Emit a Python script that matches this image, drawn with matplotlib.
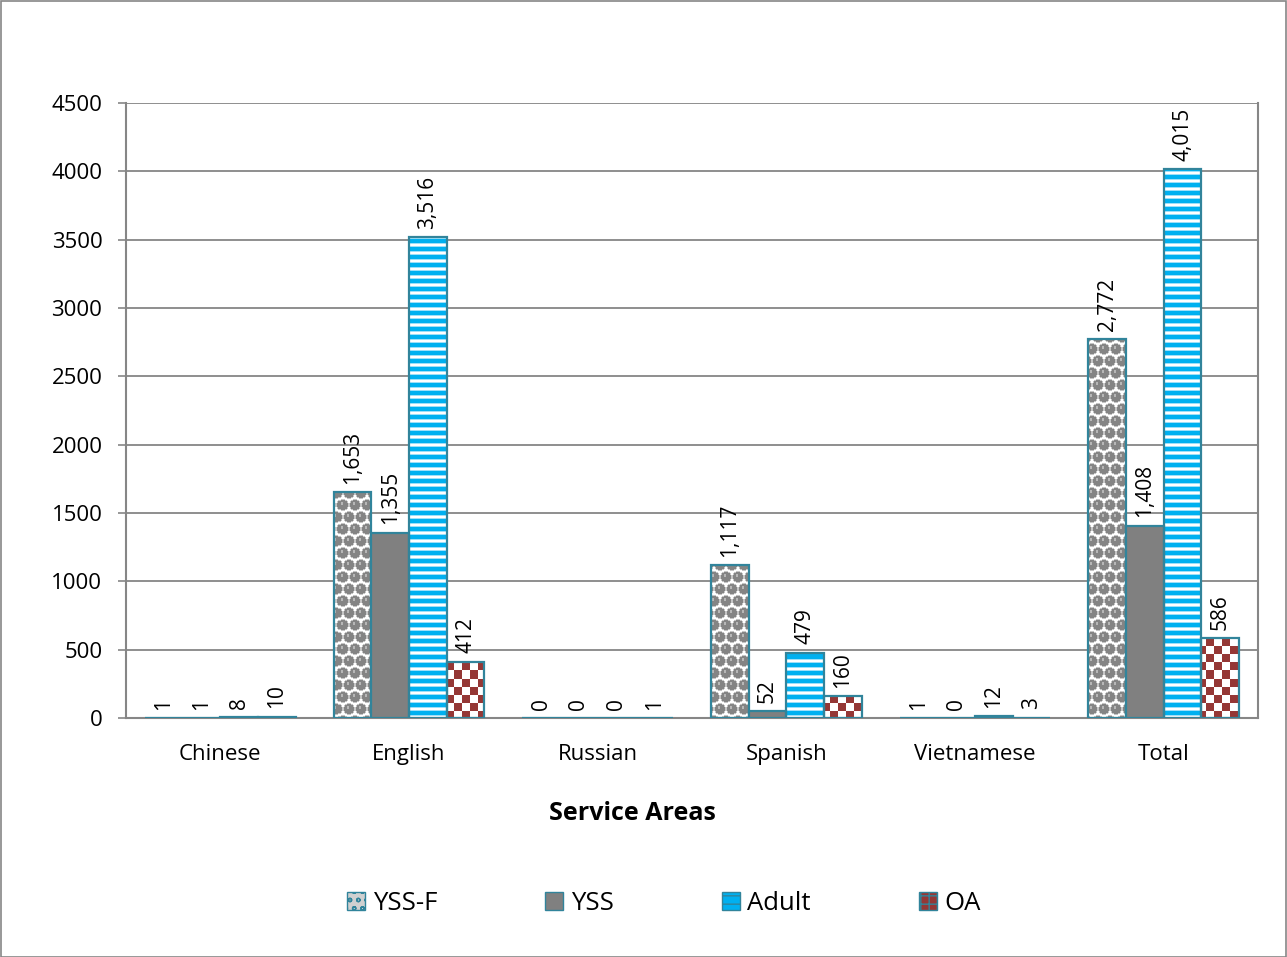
import numpy as np
import matplotlib
matplotlib.use("Agg")
import matplotlib.pyplot as plt
from matplotlib.patches import Patch, Rectangle

plt.rcParams['font.family'] = ['Open Sans', 'DejaVu Sans']

# Counts per service area
areas = ["Chinese", "English", "Russian", "Spanish", "Vietnamese", "Total"]
series = ["YSS-F", "YSS", "Adult", "OA"]
yss_f = [1, 1653, 0, 1117, 1, 2772]
yss = [1, 1355, 0, 52, 0, 1408]
adult = [8, 3516, 0, 479, 12, 4015]
oa = [10, 412, 1, 160, 3, 586]
values = [yss_f, yss, adult, oa]

W, H = 1287, 957
fig = plt.figure(figsize=(W / 100, H / 100), dpi=100)
ax = fig.add_axes([126 / W, 1 - 718 / H, 1132 / W, 615 / H])

edge = "#31849B"
grid_c = "#868686"
ymax = 4500
xlim = (-0.5, len(areas) - 0.5)

# pixel-sized fill textures, one per patterned series
ph, pw = 615, 1132
yy, xx = np.mgrid[0:ph, 0:pw]


def spheres():
    img = np.ones((ph, pw, 3))
    # grey balls on a staggered grid
    cy = (yy % 12) - 5.5
    cx = ((xx + 6 * ((yy // 12) % 2)) % 12) - 5.5
    r = np.sqrt(cx ** 2 + cy ** 2)
    ring = (r >= 5.0) & (r < 5.8)
    img[ring] = 0.78
    disc = r < 5.0
    img[disc] = 0.52
    hi = disc & (np.sqrt((cx + 1.0) ** 2 + (cy + 1.8) ** 2) < 1.4)
    img[hi] = 0.72
    return img


def stripes():
    img = np.ones((ph, pw, 3))
    k = yy % 8
    blue = np.array([0x00, 0xB0, 0xF0]) / 255
    light = np.array([0x9E, 0xDF, 0xF8]) / 255
    img[k < 4] = blue
    img[(k == 4) | (k == 7)] = light
    return img


def checker():
    img = np.ones((ph, pw, 3))
    red = np.array([0x95, 0x37, 0x35]) / 255
    img[((yy // 8) + (xx // 8)) % 2 == 0] = red
    return img


textures = [spheres(), None, stripes(), checker()]
solid = [None, "#808080", None, None]

n = len(series)
bw = 0.2
x = np.arange(len(areas))
for i, (vals, tex) in enumerate(zip(values, textures)):
    pos = x + (i - (n - 1) / 2) * bw
    face = solid[i] if solid[i] else "none"
    bars = ax.bar(pos, vals, bw, color=face, edgecolor=edge, linewidth=1.6,
                  zorder=3)
    if tex is not None:
        for b in bars:
            im = ax.imshow(tex, extent=(*xlim, 0, ymax), aspect="auto",
                           interpolation="nearest", zorder=2)
            im.set_clip_path(b)
    for p, v in zip(pos, vals):
        ax.annotate(f"{v:,}", (p, v), xytext=(0, 6), textcoords="offset points",
                    rotation=90, ha="center", va="bottom", fontsize=15,
                    zorder=4)

ax.set_xlim(*xlim)
ax.set_ylim(0, ymax)
ax.set_yticks(np.arange(0, ymax + 1, 500))
ax.set_xticks(x)
ax.set_xticklabels(areas)
ax.tick_params(axis="x", length=0, pad=19, labelsize=16)
ax.tick_params(axis="y", length=6, width=1.2, color=grid_c, pad=11,
               labelsize=16)
ax.yaxis.grid(True, color=grid_c, linewidth=1.3, zorder=1)
ax.set_axisbelow(True)
for s in ["left", "right", "bottom"]:
    ax.spines[s].set_color(grid_c)
    ax.spines[s].set_linewidth(1.5)
ax.spines["top"].set_visible(False)

fig.text(632 / W, 1 - 813 / H, "Service Areas", ha="center", va="center",
         fontsize=18, fontweight="bold")

handles = [
    Patch(facecolor="#d0d0d0", edgecolor=edge, hatch="oo"),
    Patch(facecolor="#808080", edgecolor=edge),
    Patch(facecolor="#00B0F0", edgecolor=edge, hatch="--"),
    Patch(facecolor="#953735", edgecolor=edge, hatch="++"),
]
fig.legend(handles, series, loc="center", bbox_to_anchor=(664 / W, 1 - 903 / H),
           ncol=4, frameon=False, fontsize=18.5, handlelength=0.7,
           handleheight=0.7, handletextpad=0.3, columnspacing=4.2)

# chart area border
fig.patches.append(Rectangle((0.5 / W, 0.5 / H), 1 - 1.5 / W, 1 - 1.5 / H,
                             transform=fig.transFigure, fill=False,
                             edgecolor=grid_c, linewidth=1.2))

fig.savefig("out.png", dpi=100)
